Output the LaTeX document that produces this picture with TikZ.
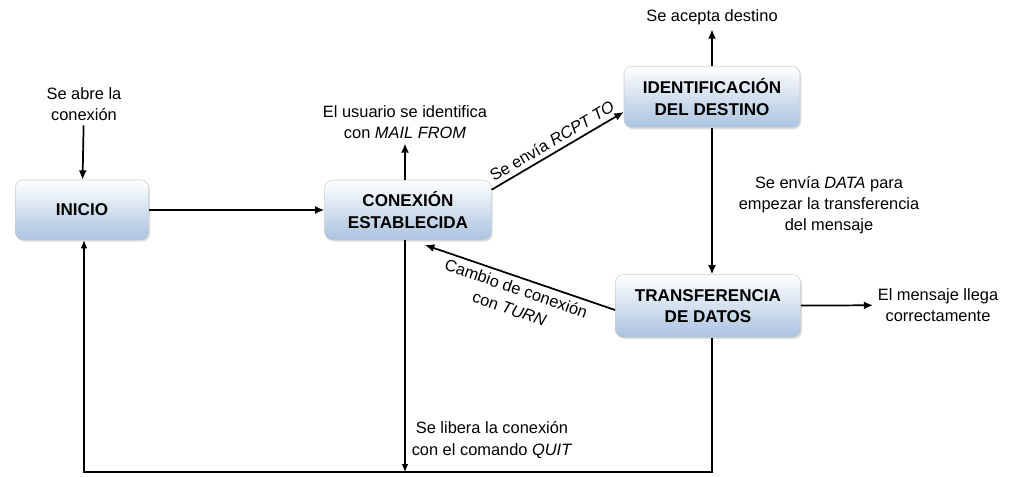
\documentclass[tikz,border=0pt]{standalone}
\usepackage{fontspec}
\setmainfont{Liberation Sans}
\usetikzlibrary{arrows.meta,shadows}
\definecolor{boxblue}{RGB}{170,194,224}
\tikzset{
  estado/.style={rectangle, rounded corners=6pt, draw=gray!40, thin,
    top color=white, bottom color=boxblue, align=center,
    drop shadow={opacity=0.25, shadow xshift=1pt, shadow yshift=-1.2pt},
    font=\fontsize{12.8}{16}\selectfont\bfseries},
  texto/.style={align=center, font=\fontsize{12.3}{16}\selectfont},
  flecha/.style={line width=1.3pt, -{Latex[length=7pt,width=6pt]}},
  linea/.style={line width=0.8pt}
}
\begin{document}
\begin{tikzpicture}[x=0.75pt,y=-0.75pt]
			\useasboundingbox (0,0) rectangle (1011,477);
			
			% Draw the states
			\node[estado, minimum width=100pt, minimum height=45pt] (inicio) at (82,210) {INICIO};
			\node[estado, minimum width=125pt, minimum height=45pt] (conexion) at (408,210) {CONEXIÓN\\ESTABLECIDA};
			\node[estado, minimum width=132pt, minimum height=46pt] (destino) at (712,97) {IDENTIFICACIÓN\\DEL DESTINO};
			\node[estado, minimum width=139pt, minimum height=47pt] (transf) at (708,306) {TRANSFERENCIA\\DE DATOS};
			
			% Draw the texts
			\node[texto] (abre) at (84,104) {Se abre la\\conexión};
			\node[texto] (usuario) at (405,122) {El usuario se identifica\\con \textit{MAIL FROM}};
			\node[texto] (acepta) at (712,17) {Se acepta destino};
			\node[texto] (data) at (829,205) {Se envía \textit{DATA} para\\empezar la transferencia\\del mensaje};
			\node[texto] (llega) at (938,305) {El mensaje llega\\correctamente};
			\node[texto] (quit) at (492,440) {Se libera la conexión\\con el comando \textit{QUIT}};
			\coordinate (abajo) at (84,472);
			
			% Draw the arrows
			\draw[flecha] (abre) -- (inicio);
			\draw[flecha] (inicio) -- (conexion);
			\draw[flecha] (conexion.north -| usuario) -- (usuario);
			\draw[flecha] (conexion.north east) ++(0,10) -- (destino.west |- 0,112)
				node[midway, sloped, above, texto] {Se envía \textit{RCPT TO}};
			\draw[flecha] (destino) -- (acepta);
			\draw[flecha] (destino.south) -- (destino.south |- transf.north);
			\draw[flecha] (transf.west |- 0,310) -- (425,245)
				node[midway, sloped, below, texto] {Cambio de conexión\\con \textit{TURN}};
			\draw[flecha] (transf) -- (llega);
			
			% Draw the closing lines
			\draw[linea, -{Latex[length=6pt,width=5pt]}] (conexion.south -| usuario) -- (usuario |- abajo);
			\draw[linea, -{Latex[length=6pt,width=5pt]}] (transf.south -| destino) |- (abajo) -- (inicio.south -| abajo);
		\end{tikzpicture}
\end{document}
